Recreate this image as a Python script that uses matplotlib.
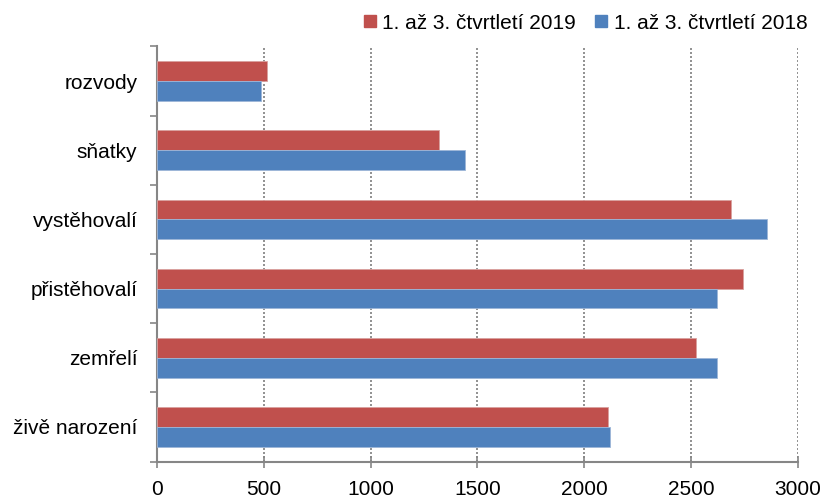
import numpy as np
import matplotlib
matplotlib.use('Agg')
import matplotlib.pyplot as plt
from matplotlib.lines import Line2D

plt.rcParams['font.family'] = ['Liberation Sans', 'DejaVu Sans']

categories = ['živě narození', 'zemřelí', 'přistěhovalí', 'vystěhovalí', 'sňatky', 'rozvody']
values_2019 = [2110, 2521, 2744, 2688, 1319, 515]
values_2018 = [2120, 2623, 2623, 2857, 1440, 489]
label_2019 = '1. až 3. čtvrtletí 2019'
label_2018 = '1. až 3. čtvrtletí 2018'
xticks = [0, 500, 1000, 1500, 2000, 2500, 3000]

red = '#C0504D'
blue = '#4F81BD'
axis_gray = '#868686'

fig = plt.figure(figsize=(8.26, 4.99), dpi=100)
ax = fig.add_axes([0.190, 0.075, 0.776, 0.832])

y = np.arange(len(categories))
h = 0.286
ax.barh(y + h / 2, values_2019, height=h, color=red, edgecolor='#d9a09e', linewidth=0.6, zorder=3)
ax.barh(y - h / 2, values_2018, height=h, color=blue, edgecolor='#9db6d8', linewidth=0.6, zorder=3)

ax.set_xlim(0, 3000)
ax.set_ylim(-0.5, len(categories) - 0.5)
ax.set_xticks(xticks)
ax.set_xticklabels([str(t) for t in xticks], fontsize=15)
ax.set_yticks(y)
ax.set_yticklabels(categories, fontsize=15)
ax.set_yticks(np.arange(-0.5, len(categories)), minor=True)

ax.tick_params(axis='y', which='major', length=0, pad=14)
ax.tick_params(axis='y', which='minor', length=5, width=1.2, color=axis_gray, direction='out')
ax.tick_params(axis='x', which='major', length=9, width=1.2, color=axis_gray, direction='inout', pad=9)

ax.grid(axis='x', linestyle=(0, (1.2, 1.2)), color='#7f7f7f', linewidth=1.2, zorder=0)
for s in ['top', 'right']:
    ax.spines[s].set_visible(False)
for s in ['left', 'bottom']:
    ax.spines[s].set_color(axis_gray)
    ax.spines[s].set_linewidth(1.5)

handles = [
    Line2D([], [], marker='s', linestyle='none', color=red, markersize=8),
    Line2D([], [], marker='s', linestyle='none', color=blue, markersize=8),
]
fig.legend(handles, [label_2019, label_2018], loc='upper right', bbox_to_anchor=(1.0, 1.01),
           ncol=2, frameon=False, fontsize=15, handlelength=0.6, handletextpad=0.3,
           columnspacing=0.9)

fig.savefig('out.png', dpi=100)
